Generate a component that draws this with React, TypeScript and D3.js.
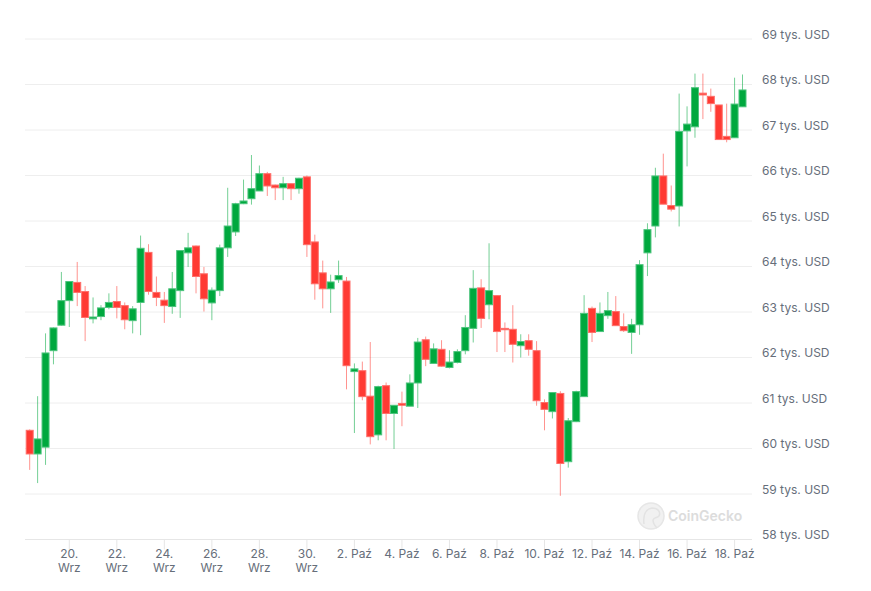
import React from "react";
import * as d3 from "d3";

// OHLC values in thousands of USD, 8-hour candles starting 18 Sep 2024 08:00 UTC
const opens = [60.40,59.88,60.03,62.15,62.71,63.25,63.65,63.45,62.85,62.90,63.10,63.23,63.14,62.81,63.21,64.31,63.43,63.26,63.12,63.47,64.30,64.45,63.84,63.20,63.47,64.41,64.76,65.38,65.49,65.66,66.04,65.79,65.73,65.82,65.71,65.97,64.54,63.86,63.51,63.71,63.68,61.69,61.71,61.15,60.30,61.38,60.77,60.99,60.93,61.44,62.39,61.87,62.18,61.78,61.89,62.15,62.64,63.53,63.16,63.36,62.64,62.62,62.26,62.37,62.15,61.01,60.81,61.21,59.71,60.59,61.14,63.08,62.57,62.92,63.01,62.68,62.55,62.72,64.30,64.89,65.99,65.34,65.33,66.98,67.07,67.81,67.74,67.55,66.86,66.83,67.51];
const highs = [60.42,61.15,62.53,62.66,63.88,63.67,64.10,63.57,63.32,63.15,63.41,63.57,63.21,63.13,64.68,64.49,63.78,63.44,63.88,64.35,64.74,64.46,63.99,63.54,64.48,65.73,65.40,65.91,66.45,66.22,66.08,65.80,65.97,65.82,65.95,66.00,64.70,64.13,63.82,64.13,63.77,61.87,61.91,62.34,61.38,61.45,60.95,61.25,61.63,62.43,62.46,62.31,62.38,62.16,62.18,62.93,63.92,63.72,64.51,63.37,62.77,63.15,62.51,62.51,62.36,61.08,61.24,61.26,60.67,61.27,63.37,63.12,63.21,63.44,63.35,62.97,62.85,64.14,64.95,66.17,66.48,65.78,67.80,67.52,68.24,68.24,67.91,67.55,67.58,68.15,68.22];
const lows = [59.53,59.24,59.64,61.85,62.70,62.67,63.13,62.36,62.75,62.82,63.06,62.86,62.62,62.53,62.49,63.38,63.13,62.76,62.96,62.87,63.99,63.41,63.01,62.82,63.35,64.21,64.67,65.37,65.36,65.66,65.55,65.46,65.46,65.46,65.60,64.21,63.27,63.08,62.98,63.64,61.30,60.34,61.06,60.09,60.18,60.18,59.99,60.49,60.93,60.89,61.81,61.87,61.80,61.76,61.87,62.07,62.33,62.65,62.84,62.12,62.12,61.89,62.00,62.04,60.94,60.40,60.66,58.96,59.58,60.58,61.14,62.34,62.57,62.85,62.70,62.56,62.08,62.50,63.79,64.64,65.37,65.21,64.88,66.20,66.83,67.24,67.40,66.79,66.73,66.83,67.51];
const closes = [59.88,60.21,62.10,62.65,63.25,63.67,63.43,62.88,62.89,63.09,63.21,63.10,62.83,63.07,64.40,63.45,63.32,63.14,63.51,64.35,64.41,63.78,63.29,63.48,64.41,64.89,65.38,65.44,65.71,66.04,65.77,65.73,65.82,65.71,65.94,64.48,63.62,63.51,63.66,63.80,61.82,61.75,61.14,60.26,61.36,60.77,60.95,60.95,61.44,62.34,61.96,62.19,61.81,61.90,62.13,62.66,63.52,62.86,63.47,62.57,62.61,62.29,62.35,62.18,61.05,60.86,61.23,59.67,60.61,61.25,62.97,62.55,62.97,63.03,62.70,62.59,62.72,64.04,64.81,65.99,65.37,65.26,66.97,67.13,67.93,67.77,67.58,66.79,66.79,67.57,67.88];

const startTime = Date.UTC(2024, 8, 18, 8);
const stepMs = 8 * 3600 * 1000;

const yTicks = [58, 59, 60, 61, 62, 63, 64, 65, 66, 67, 68, 69];
const xTickDates = [
  Date.UTC(2024, 8, 20), Date.UTC(2024, 8, 22), Date.UTC(2024, 8, 24), Date.UTC(2024, 8, 26),
  Date.UTC(2024, 8, 28), Date.UTC(2024, 8, 30), Date.UTC(2024, 9, 2), Date.UTC(2024, 9, 4),
  Date.UTC(2024, 9, 6), Date.UTC(2024, 9, 8), Date.UTC(2024, 9, 10), Date.UTC(2024, 9, 12),
  Date.UTC(2024, 9, 14), Date.UTC(2024, 9, 16), Date.UTC(2024, 9, 18),
];
const monthNames = ["Sty", "Lut", "Mar", "Kwi", "Maj", "Cze", "Lip", "Sie", "Wrz", "Paź", "Lis", "Gru"];

const W = 871;
const H = 591;
const plotLeft = 25;
const plotRight = 752;
const GREEN = "#00a83e";
const RED = "#ff3a33";
const FONT = "Inter, 'Open Sans', 'Noto Sans', sans-serif";

export default function App() {
  const n = opens.length;
  const times = opens.map((_, i) => new Date(startTime + i * stepMs));
  const x = d3
    .scaleUtc()
    .domain([times[0], times[n - 1]])
    .range([29.7, 742.5]);
  const y = d3.scaleLinear().domain([58, 69]).range([539.5, 39]);
  const bw = 7;

  return (
    <svg
      width={W}
      height={H}
      style={{ position: "absolute", left: 0, top: 0, background: "#fff" }}
      fontFamily={FONT}
    >
      {/* grid */}
      {yTicks.map((v) => (
        <line
          key={"g" + v}
          x1={plotLeft}
          x2={plotRight}
          y1={y(v)}
          y2={y(v)}
          stroke={v === 58 ? "#e6e6e6" : "#eeeeee"}
          strokeWidth={1}
        />
      ))}
      {yTicks.map((v) => (
        <text key={"yl" + v} x={762} y={y(v) - 0.5} fontSize={12} fill="#666e7a">
          {`${v} tys. USD`}
        </text>
      ))}
      {/* x ticks */}
      {xTickDates.map((t) => {
        const d = new Date(t);
        const xp = x(d);
        const day = d.getUTCDate();
        const mon = d.getUTCMonth();
        return (
          <g key={"xt" + t}>
            <line x1={xp} x2={xp} y1={539.5} y2={549.5} stroke="#e6e6e6" />
            {mon === 8 ? (
              <>
                <text x={xp} y={558} fontSize={12} fill="#666e7a" textAnchor="middle">
                  {`${day}.`}
                </text>
                <text x={xp} y={572} fontSize={12} fill="#666e7a" textAnchor="middle">
                  {monthNames[mon]}
                </text>
              </>
            ) : (
              <text x={xp} y={558} fontSize={12} fill="#666e7a" textAnchor="middle">
                {`${day}. ${monthNames[mon]}`}
              </text>
            )}
          </g>
        );
      })}
      {/* watermark */}
      <g opacity={0.9}>
        <circle cx={651} cy={516} r={13} fill="#f0f0f0" stroke="#e4e4e4" strokeWidth={1.5} />
        <path
          d="M644 524 C643 516 645 509 652 508 C658 508 661 512 659 516 C657 518 654 517 653 520 C653 523 655 526 657 528"
          fill="none"
          stroke="#e0e0e0"
          strokeWidth={1.5}
        />
        <text x={668} y={521} fontSize={14} fontWeight={600} fill="#d9d9d9">
          CoinGecko
        </text>
      </g>
      {/* candles */}
      {opens.map((o, i) => {
        const c = closes[i];
        const up = c >= o;
        const col = up ? GREEN : RED;
        const xc = x(times[i]);
        const top = y(Math.max(o, c));
        const bot = y(Math.min(o, c));
        const h = Math.max(1, bot - top);
        return (
          <g key={"c" + i}>
            <line
              x1={xc}
              x2={xc}
              y1={y(highs[i])}
              y2={y(lows[i])}
              stroke={col}
              strokeOpacity={0.55}
              strokeWidth={1}
            />
            <rect
              x={xc - bw / 2}
              y={top}
              width={bw}
              height={h}
              fill={col}
              stroke={up ? "#4cc47d" : "#ff6f6a"}
              strokeWidth={1}
            />
          </g>
        );
      })}
    </svg>
  );
}
